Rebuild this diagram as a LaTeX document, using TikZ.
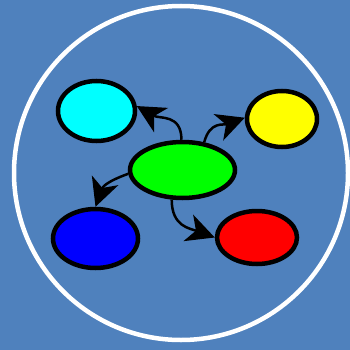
\documentclass[tikz,border=0pt]{standalone}
\usetikzlibrary{shapes.geometric,arrows.meta}
\definecolor{bg}{HTML}{4F81BD}
\definecolor{ccyan}{HTML}{00FFFF}
\definecolor{cyellow}{HTML}{FFFF00}
\definecolor{cgreen}{HTML}{00FF00}
\definecolor{cblue}{HTML}{0000FF}
\definecolor{cred}{HTML}{FF0000}
\begin{document}
\begin{tikzpicture}[x=1pt,y=-1pt,
  blob/.style={ellipse,draw=black,line width=4.5pt,inner sep=0pt},
  link/.style={draw=black,line width=2.5pt,looseness=1.2,-{Stealth[length=28pt,width=28pt,inset=8pt]}}]
\fill[bg] (0,0) rectangle (350,350);
\useasboundingbox (0,0) rectangle (350,350);
\node[draw=white,line width=4.5pt,circle,minimum size=334pt,inner sep=0pt] (ring) at (181,173) {};
\node[blob,fill=ccyan,minimum width=77pt,minimum height=60pt] (c) at (96.5,111) {};
\node[blob,fill=cyellow,minimum width=70pt,minimum height=56pt] (y) at (282,119) {};
\node[blob,fill=cgreen,minimum width=105pt,minimum height=56pt] (g) at (182.5,170) {};
\node[blob,fill=cblue,minimum width=85pt,minimum height=59pt] (b) at (95.5,238.5) {};
\node[blob,fill=cred,minimum width=80pt,minimum height=53pt] (r) at (257,237.5) {};
\draw[link] (g.92) to[out=90,in=-30] (c.7);
\draw[link] (g.52) to[out=75,in=200] (y.178);
\draw[link] (g.184) to[out=200,in=70] (b.90);
\draw[link] (g.250) to[out=270,in=160] (r.180);
\end{tikzpicture}
\end{document}
